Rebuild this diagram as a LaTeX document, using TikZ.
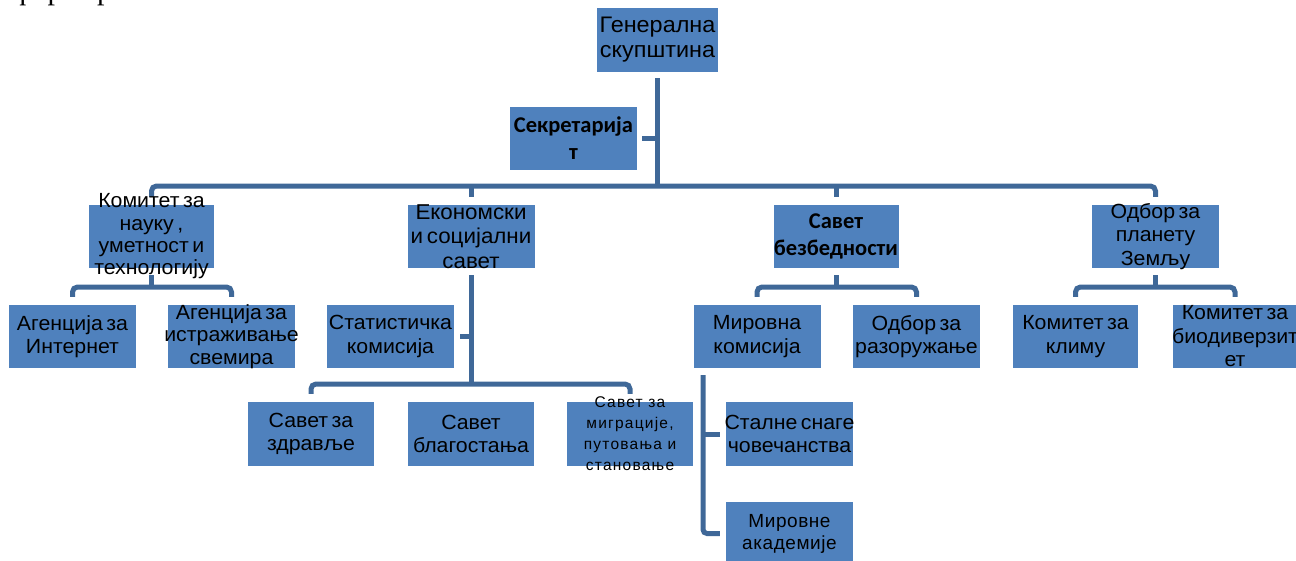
\documentclass[tikz,border=0pt]{standalone}
\usepackage{fontspec}
\setmainfont{Liberation Sans}[FakeStretch=1.04,WordSpace=0.6]
\newfontfamily\carl{Carlito}
\newfontfamily\spacedf{Liberation Sans}[LetterSpace=8]
\newfontfamily\spacedg{Liberation Sans}[LetterSpace=3]
\newfontfamily\serf{Liberation Serif}
\definecolor{boxblue}{HTML}{4F81BD}
\definecolor{lineblue}{HTML}{3F6898}
\tikzset{
  box/.style={fill=boxblue, draw=none, inner sep=0pt, minimum height=63pt},
  txt/.style={align=center, text=black, inner sep=0pt, font=\fontsize{20.5}{23.5}\selectfont},
  tighttxt/.style={txt, font=\fontsize{20.5}{22.3}\selectfont},
  btxt/.style={align=center, text=black, inner sep=0pt, font=\carl\bfseries\fontsize{22.5}{27}\selectfont},
  conn/.style={draw=lineblue, line width=5pt},
}
\begin{document}
\begin{tikzpicture}[x=1pt,y=-1pt]
\useasboundingbox (0,0) rectangle (1296,560);
\clip (0,0) rectangle (1296,560);
% fragment of a text line above the chart
\node[anchor=base west, inner sep=0pt, font=\serf\fontsize{30}{30}\selectfont] (frag) at (13,-1) {формира};
% boxes
\node[box, minimum width=121pt, minimum height=64pt] (GS) at (657.5,40) {};
\node[box, minimum width=127pt] (Sek) at (573.5,138.5) {};
\node[box, minimum width=125pt] (K1) at (151.5,236.5) {};
\node[box, minimum width=127pt] (E) at (471,236.5) {};
\node[box, minimum width=125pt] (SB) at (836,236.5) {};
\node[box, minimum width=127pt] (O) at (1155.5,236.5) {};
\node[box, minimum width=127pt] (A1) at (72.5,336.5) {};
\node[box, minimum width=127pt] (A2) at (231.5,336.5) {};
\node[box, minimum width=127pt] (St) at (390.5,336.5) {};
\node[box, minimum width=127pt] (MK) at (757,336.5) {};
\node[box, minimum width=127pt] (OR) at (916.5,336.5) {};
\node[box, minimum width=125pt] (KK) at (1075.5,336.5) {};
\node[box, minimum width=124pt] (KB) at (1235,336.5) {};
\node[box, minimum width=126pt, minimum height=64pt] (Z) at (311,434) {};
\node[box, minimum width=126pt, minimum height=64pt] (B) at (471,434) {};
\node[box, minimum width=126pt, minimum height=64pt] (M) at (630,434) {};
\node[box, minimum width=127pt, minimum height=64pt] (SS) at (789.5,434) {};
\node[box, minimum width=127pt] (MA) at (789.5,533.5) {};
% bus coordinates
\coordinate (bus1) at (0,186);
\coordinate (bus2) at (0,287);
\coordinate (bus3) at (0,384);
\coordinate (mkx) at (703,0);
% connectors
\draw[conn, shorten <=6pt] (GS.south) -- (GS.south |- bus1);
\draw[conn, shorten <=5pt] (Sek.east) -- (Sek.east -| GS.south);
\draw[conn, rounded corners=5pt, shorten <=8pt, shorten >=8pt] (K1.north) -- (K1.north |- bus1) -- (O.north |- bus1) -- (O.north);
\draw[conn, shorten >=8pt] (E.north |- bus1) -- (E.north);
\draw[conn, shorten >=8pt] (SB.north |- bus1) -- (SB.north);
% level 2
\draw[conn, shorten <=7pt] (K1.south) -- (K1.south |- bus2);
\draw[conn, rounded corners=5pt, shorten <=8pt, shorten >=8pt] (A1.north) -- (A1.north |- bus2) -- (A2.north |- bus2) -- (A2.north);
\draw[conn, shorten <=7pt] (SB.south) -- (SB.south |- bus2);
\draw[conn, rounded corners=5pt, shorten <=8pt, shorten >=8pt] (MK.north) -- (MK.north |- bus2) -- (OR.north |- bus2) -- (OR.north);
\draw[conn, shorten <=7pt] (O.south) -- (O.south |- bus2);
\draw[conn, rounded corners=5pt, shorten <=8pt, shorten >=8pt] (KK.north) -- (KK.north |- bus2) -- (KB.north |- bus2) -- (KB.north);
% economic council
\draw[conn, shorten <=7pt] (E.south) -- (E.south |- bus3);
\draw[conn, shorten <=6pt] (St.east) -- (St.east -| E.south);
\draw[conn, rounded corners=5pt, shorten <=8pt, shorten >=8pt] (Z.north) -- (Z.north |- bus3) -- (M.north |- bus3) -- (M.north);
% peace commission
\draw[conn, rounded corners=4pt, shorten <=7pt, shorten >=6pt] (mkx |- MK.south) -- (mkx |- MA.west) -- (MA.west);
\draw[conn, shorten >=6pt] (mkx |- SS.west) -- (SS.west);
% texts
\node[txt, font=\fontsize{22.5}{25}\selectfont] (GSt) at (GS.center) {Генерална\\скупштина};
\node[btxt] (Sekt) at (Sek.center) {Секретарија\\т};
\node[tighttxt] (K1t) at (K1.center) {Комитет за\\науку ,\\уметност и\\технологију};
\node[txt, font=\fontsize{21.5}{24.5}\selectfont] (Et) at (E.center) {Економски\\и социјални\\савет};
\node[btxt] (SBt) at (SB.center) {Савет\\безбедности};
\node[txt] (Ot) at (O.center) {Одбор за\\планету\\Земљу};
\node[txt] (A1t) at (A1.center) {Агенција за\\Интернет};
\node[tighttxt] (A2t) at (A2.center) {Агенција за\\истраживање\\свемира};
\node[txt] (Stt) at (St.center) {Статистичка\\комисија};
\node[txt] (MKt) at (MK.center) {Мировна\\комисија};
\node[txt] (ORt) at (OR.center) {Одбор за\\разоружање};
\node[txt] (KKt) at (KK.center) {Комитет за\\климу};
\node[txt] (KBt) at (KB.center) {Комитет за\\биодиверзит\\ет};
\node[txt] (Zt) at (Z.center) {Савет за\\здравље};
\node[txt] (Bt) at (B.center) {Савет\\благостања};
\node[txt, font=\spacedf\fontsize{15.5}{21}\selectfont] (Mt) at (M.center) {Савет за\\миграције,\\путовања и\\становање};
\node[txt] (SSt) at (SS.center) {Сталне снаге\\човечанства};
\node[txt, font=\spacedg\fontsize{19}{22}\selectfont] (MAt) at (MA.center) {Мировне\\академије};
\end{tikzpicture}
\end{document}
